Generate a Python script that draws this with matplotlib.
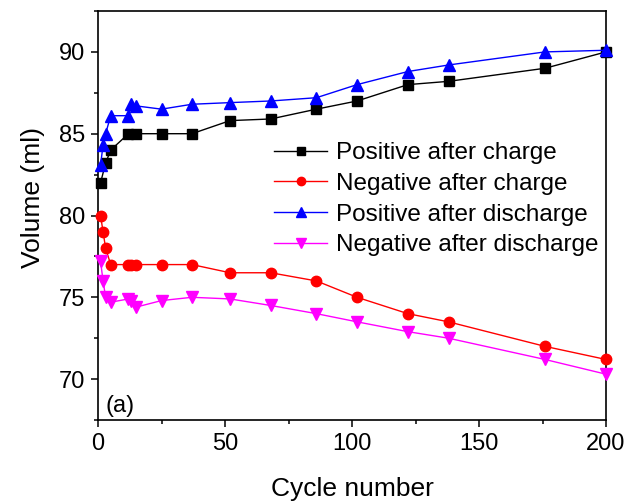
import matplotlib
matplotlib.use('Agg')
import matplotlib.pyplot as plt
from matplotlib.ticker import MultipleLocator

plt.rcParams['font.family'] = ['Liberation Sans', 'DejaVu Sans']

# cycle numbers per series
x_pos_charge = [1, 3, 5, 12, 15, 25, 37, 52, 68, 86, 102, 122, 138, 176, 200]
x_other = [1, 2, 3, 5, 12, 13, 15, 25, 37, 52, 68, 86, 102, 122, 138, 176, 200]

pos_after_charge = [82.0, 83.2, 84.0, 85.0, 85.0, 85.0, 85.0, 85.8, 85.9,
                    86.5, 87.0, 88.0, 88.2, 89.0, 90.0]
neg_after_charge = [80.0, 79.0, 78.0, 77.0, 77.0, 77.0, 77.0, 77.0, 77.0,
                    76.5, 76.5, 76.0, 75.0, 74.0, 73.5, 72.0, 71.2]
pos_after_discharge = [83.1, 84.3, 85.0, 86.1, 86.1, 86.8, 86.7, 86.5, 86.8,
                       86.9, 87.0, 87.2, 88.0, 88.8, 89.2, 90.0, 90.1]
neg_after_discharge = [77.2, 76.0, 75.0, 74.7, 74.9, 74.8, 74.4, 74.8, 75.0,
                       74.9, 74.5, 74.0, 73.5, 72.9, 72.5, 71.2, 70.3]

labels = ['Positive after charge', 'Negative after charge',
          'Positive after discharge', 'Negative after discharge']

fig = plt.figure(figsize=(6.3, 5.03), dpi=100)
ax = fig.add_axes([98 / 630, 1 - 420 / 503, 508 / 630, 409 / 503])

lw = 1.0
ax.plot(x_pos_charge, pos_after_charge, color='black', marker='s', ms=6.5,
        lw=lw, label=labels[0], clip_on=False, zorder=3)
ax.plot(x_other, neg_after_charge, color='red', marker='o', ms=7.5,
        lw=lw, label=labels[1], clip_on=False, zorder=3)
ax.plot(x_other, pos_after_discharge, color='blue', marker='^', ms=8.5,
        lw=lw, label=labels[2], clip_on=False, zorder=3)
ax.plot(x_other, neg_after_discharge, color='magenta', marker='v', ms=8.5,
        lw=lw, label=labels[3], clip_on=False, zorder=3)

ax.set_xlim(0, 200)
ax.set_ylim(67.5, 92.5)
ax.xaxis.set_major_locator(MultipleLocator(50))
ax.xaxis.set_minor_locator(MultipleLocator(25))
ax.yaxis.set_major_locator(MultipleLocator(5))
ax.yaxis.set_minor_locator(MultipleLocator(2.5))

for side in ['left', 'right', 'top', 'bottom']:
    ax.spines[side].set_linewidth(1.2)
ax.tick_params(which='major', direction='out', length=5, width=1.1,
               labelsize=17, pad=4)
ax.tick_params(which='minor', direction='out', length=3, width=1.1)

ax.set_xlabel('Cycle number', fontsize=19)
ax.set_ylabel('Volume (ml)', fontsize=19)
ax.xaxis.set_label_coords(0.5, -0.14)
ax.yaxis.set_label_coords(-0.105, 0.544)

ax.text(0.015, 0.034, '(a)', transform=ax.transAxes, fontsize=17,
        ha='left', va='center')

ax.legend(loc='upper left', bbox_to_anchor=(274 / 630, 1 - 142 / 503),
          bbox_transform=fig.transFigure, frameon=False, fontsize=17.5,
          handlelength=2.2, handletextpad=0.35, labelspacing=0.36,
          markerscale=0.8, borderpad=0, borderaxespad=0)

fig.savefig('out.png', dpi=100)
